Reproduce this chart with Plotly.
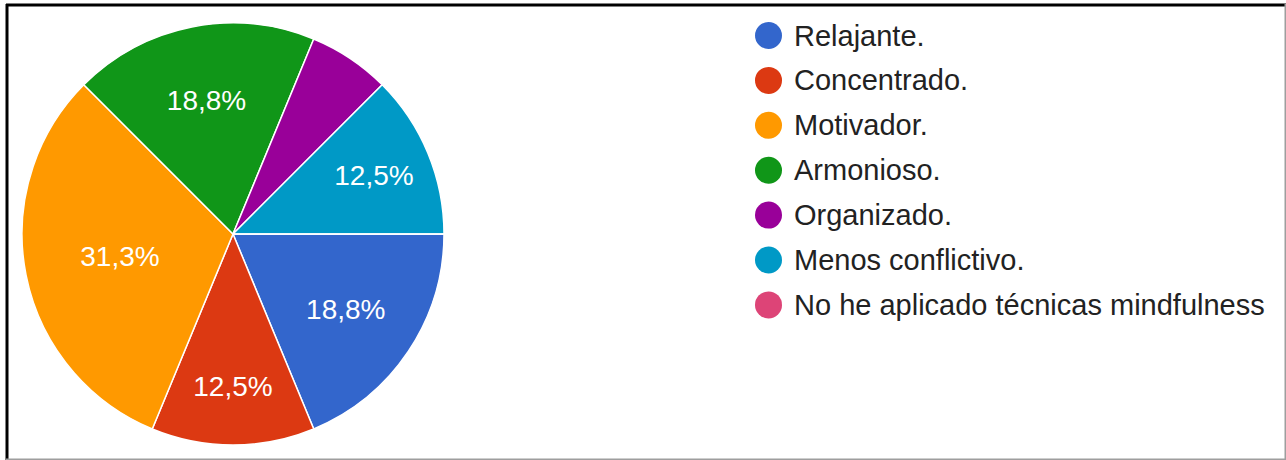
import plotly.graph_objects as go

# Survey responses: number of participants per answer
categories = [
    "Relajante.",
    "Concentrado.",
    "Motivador.",
    "Armonioso.",
    "Organizado.",
    "Menos conflictivo.",
    "No he aplicado técnicas mindfulness",
]
counts = [3, 2, 5, 3, 1, 2, 0]
colors = ["#3366cc", "#dc3912", "#ff9900", "#109618", "#990099", "#0099c6", "#dd4477"]
# slices too small for an inside label stay unlabeled
show_label = [True, True, True, True, False, True, False]

W, H = 1286, 460
FONT = "Arial, Liberation Sans, sans-serif"

fig = go.Figure()

fig.add_trace(go.Pie(
    labels=categories,
    values=counts,
    sort=False,
    direction="clockwise",
    rotation=90,
    marker=dict(colors=colors, line=dict(color="white", width=1.5)),
    texttemplate=["%{percent:.1%}" if s else "" for s in show_label],
    textposition="inside",
    insidetextorientation="horizontal",
    textfont=dict(family=FONT, size=28, color="white"),
    domain=dict(x=[22 / W, 444 / W], y=[(H - 445) / H, (H - 23) / H]),
    hoverinfo="label+percent",
    showlegend=False,
))

# Legend: colored dots with labels, one row per category
shapes = []
annotations = []
row0, step, dot_r, dot_x = 35.5, 44.9, 13.5, 768.5
for i, (name, col) in enumerate(zip(categories, colors)):
    cy = row0 + i * step
    shapes.append(dict(
        type="circle", xref="paper", yref="paper",
        x0=(dot_x - dot_r) / W, x1=(dot_x + dot_r) / W,
        y0=1 - (cy + dot_r) / H, y1=1 - (cy - dot_r) / H,
        fillcolor=col, line=dict(width=0),
    ))
    annotations.append(dict(
        text=name, xref="paper", yref="paper",
        x=792 / W, y=1 - cy / H, xanchor="left", yanchor="middle",
        showarrow=False, font=dict(family=FONT, size=29, color="#222222"),
    ))

# Frame around the chart
shapes += [
    dict(type="line", xref="paper", yref="paper", x0=6 / W, x1=1, y0=1 - 5 / H, y1=1 - 5 / H,
         line=dict(color="black", width=3)),
    dict(type="line", xref="paper", yref="paper", x0=7 / W, x1=7 / W, y0=0, y1=1 - 4 / H,
         line=dict(color="black", width=3)),
    dict(type="line", xref="paper", yref="paper", x0=6 / W, x1=1, y0=0.5 / H, y1=0.5 / H,
         line=dict(color="#9e9e9e", width=2)),
    dict(type="line", xref="paper", yref="paper", x0=1 - 0.5 / W, x1=1 - 0.5 / W, y0=0, y1=1 - 4 / H,
         line=dict(color="#9e9e9e", width=2)),
]

fig.update_layout(
    width=W, height=H,
    margin=dict(l=0, r=0, t=0, b=0),
    paper_bgcolor="white",
    plot_bgcolor="white",
    separators=",.",
    showlegend=False,
    shapes=shapes,
    annotations=annotations,
)

fig.write_html("out.html")
